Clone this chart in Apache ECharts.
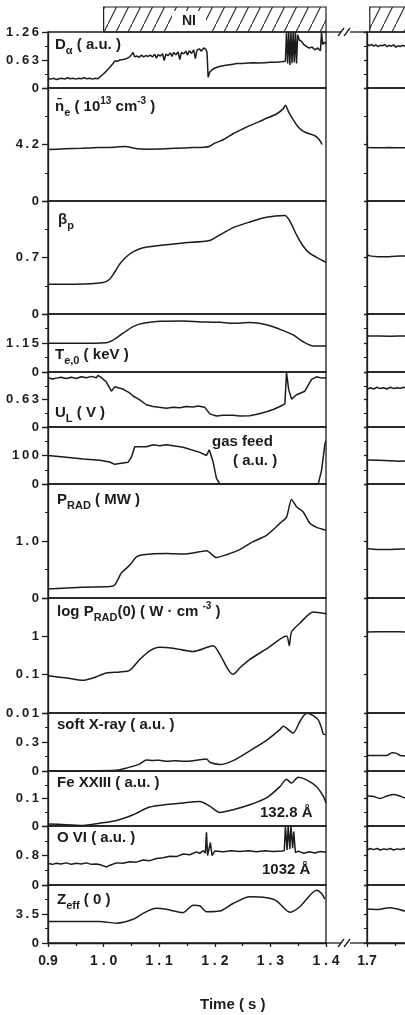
<!DOCTYPE html>
<html><head><meta charset="utf-8">
<script src="https://cdn.jsdelivr.net/npm/echarts@6/dist/echarts.min.js"></script>
<style>html,body{margin:0;padding:0;background:#fff}#c{width:405px;height:1015px}</style>
</head><body><div id="c"></div>
<script>
// ---------------- DATA ----------------
const xTicksMain = [0.9, 1.0, 1.1, 1.2, 1.3, 1.4];
const xTicksRight = [1.7];
const niStart = [1.0, 1.705];
const niEnd = [1.4, 1.81];

const yTickLabels = [
  ['0','0.63','1.26'], ['0','4.2'], ['0','0.7'], ['0','1.15'], ['0','0.63'], ['0','100'],
  ['0','1.0'], ['0.01','0.1','1'], ['0','0.3'], ['0','0.1'], ['0','0.8'], ['0','3.5']
];
const yMax = [1.26, 8.4, 1.4, 2.3, 1.26, 200, 2.0, 10, 0.6, 0.2, 1.6, 7.0];

const dAlpha = [[0.900,0.21],[0.905,0.20],[0.910,0.22],[0.915,0.19],[0.920,0.21],[0.925,0.22],[0.930,0.20],[0.935,0.23],[0.940,0.21],[0.945,0.22],[0.950,0.20],[0.955,0.22],[0.960,0.21],[0.965,0.23],[0.970,0.21],[0.975,0.22],[0.980,0.20],[0.985,0.22],[0.990,0.21],[0.993,0.25],[0.999,0.31],[1.005,0.38],[1.011,0.46],[1.017,0.55],[1.020,0.61],[1.025,0.60],[1.029,0.63],[1.035,0.64],[1.041,0.66],[1.047,0.70],[1.050,0.73],[1.053,0.80],[1.056,0.70],[1.060,0.72],[1.064,0.69],[1.068,0.74],[1.072,0.70],[1.076,0.73],[1.080,0.71],[1.084,0.74],[1.088,0.70],[1.092,0.76],[1.095,0.67],[1.098,0.75],[1.102,0.72],[1.106,0.77],[1.109,0.62],[1.112,0.76],[1.116,0.73],[1.120,0.79],[1.123,0.71],[1.126,0.80],[1.130,0.75],[1.134,0.81],[1.137,0.64],[1.140,0.80],[1.144,0.77],[1.148,0.83],[1.151,0.74],[1.154,0.84],[1.158,0.78],[1.162,0.86],[1.165,0.66],[1.168,0.85],[1.172,0.88],[1.176,0.83],[1.180,0.90],[1.184,0.87],[1.186,0.80],[1.188,0.24],[1.191,0.36],[1.195,0.41],[1.200,0.45],[1.210,0.49],[1.220,0.51],[1.230,0.53],[1.240,0.55],[1.250,0.55],[1.260,0.56],[1.270,0.57],[1.280,0.56],[1.290,0.57],[1.300,0.58],[1.310,0.58],[1.320,0.59],[1.327,0.60],[1.329,1.26],[1.331,0.55],[1.333,1.26],[1.335,0.52],[1.337,1.26],[1.339,0.56],[1.341,1.26],[1.343,0.58],[1.345,1.26],[1.347,0.55],[1.349,1.20],[1.352,1.08],[1.356,1.05],[1.360,0.98],[1.365,0.93],[1.370,0.90],[1.375,0.92],[1.380,0.86],[1.385,0.90],[1.390,0.84],[1.392,1.26],[1.394,0.98],[1.397,1.03],[1.400,0.99]];
const dAlphaR = [[1.700,1.00],[1.704,0.95],[1.708,0.98],[1.712,0.94],[1.716,0.97],[1.720,0.93],[1.724,0.96],[1.728,0.95],[1.732,0.98],[1.736,0.93],[1.740,0.96],[1.744,0.94],[1.748,0.97],[1.752,0.92],[1.756,0.95],[1.760,0.93],[1.764,0.96],[1.768,0.94],[1.772,0.95],[1.776,0.93]];

const neBar = [[0.900,3.82],[0.930,3.88],[0.960,3.92],[0.990,3.97],[1.020,4.00],[1.040,4.06],[1.050,3.98],[1.060,3.88],[1.080,3.85],[1.100,3.86],[1.130,3.92],[1.160,3.97],[1.180,4.00],[1.190,4.05],[1.200,4.30],[1.215,4.55],[1.233,5.00],[1.250,5.35],[1.263,5.60],[1.280,5.90],[1.293,6.15],[1.310,6.45],[1.323,6.85],[1.327,7.12],[1.333,6.60],[1.340,6.10],[1.350,5.50],[1.360,5.15],[1.370,5.00],[1.380,4.85],[1.388,4.55],[1.393,4.20]];
const neBarR = [[1.700,3.97],[1.720,3.96],[1.740,3.97],[1.760,3.96],[1.780,3.96]];

const betaP = [[0.900,0.37],[0.950,0.37],[0.999,0.39],[1.011,0.43],[1.020,0.52],[1.029,0.62],[1.041,0.71],[1.053,0.77],[1.071,0.82],[1.089,0.84],[1.143,0.88],[1.191,0.91],[1.209,0.98],[1.233,1.07],[1.263,1.14],[1.293,1.20],[1.326,1.22],[1.335,1.15],[1.347,0.98],[1.359,0.84],[1.371,0.75],[1.389,0.68],[1.400,0.64]];
const betaPR = [[1.700,0.74],[1.705,0.72],[1.720,0.71],[1.740,0.71],[1.760,0.72],[1.780,0.72]];

const te0 = [[0.900,1.14],[0.950,1.14],[1.005,1.16],[1.020,1.30],[1.035,1.54],[1.053,1.80],[1.071,1.93],[1.101,2.01],[1.143,2.02],[1.185,1.98],[1.210,1.97],[1.233,1.93],[1.263,1.96],[1.293,1.87],[1.323,1.64],[1.341,1.47],[1.359,1.20],[1.377,1.03],[1.400,1.03]];
const te0R = [[1.700,1.43],[1.740,1.42],[1.780,1.43]];

const uL = [[0.900,1.13],[0.908,1.10],[0.915,1.12],[0.923,1.14],[0.933,1.11],[0.942,1.14],[0.951,1.11],[0.960,1.15],[0.969,1.13],[0.978,1.16],[0.987,1.13],[0.990,1.18],[0.996,1.13],[1.005,1.03],[1.014,0.82],[1.020,0.92],[1.029,0.89],[1.035,0.87],[1.041,0.82],[1.047,0.78],[1.053,0.71],[1.065,0.62],[1.077,0.51],[1.089,0.47],[1.100,0.45],[1.113,0.43],[1.125,0.45],[1.137,0.44],[1.149,0.47],[1.161,0.46],[1.170,0.48],[1.182,0.45],[1.191,0.30],[1.203,0.25],[1.215,0.27],[1.233,0.27],[1.245,0.25],[1.263,0.26],[1.278,0.30],[1.293,0.35],[1.305,0.40],[1.317,0.47],[1.326,0.53],[1.329,1.24],[1.333,0.85],[1.338,0.64],[1.347,0.74],[1.362,0.82],[1.374,1.09],[1.383,1.15],[1.392,1.12],[1.400,1.13]];
const uLR = [[1.700,0.86],[1.706,0.90],[1.712,0.87],[1.718,0.91],[1.724,0.88],[1.730,0.90],[1.736,0.87],[1.742,0.91],[1.748,0.88],[1.754,0.90],[1.760,0.89],[1.766,0.91],[1.772,0.88],[1.778,0.90]];

const gasFeed = [[0.900,100],[0.933,94],[0.963,88],[0.993,83],[1.011,77],[1.020,69],[1.044,76],[1.050,94],[1.056,131],[1.077,131],[1.089,138],[1.101,134],[1.113,138],[1.143,129],[1.173,111],[1.185,100],[1.190,120],[1.197,77],[1.203,20],[1.209,0],[1.386,0],[1.392,48],[1.398,140],[1.400,152]];
const gasFeedR = [[1.700,84],[1.720,83],[1.740,82],[1.760,80],[1.780,81]];

const pRad = [[0.900,0.16],[0.963,0.19],[1.011,0.20],[1.020,0.23],[1.032,0.44],[1.041,0.52],[1.050,0.61],[1.059,0.72],[1.071,0.76],[1.113,0.78],[1.143,0.77],[1.173,0.81],[1.185,0.83],[1.203,0.71],[1.221,0.76],[1.245,0.85],[1.269,0.99],[1.293,1.10],[1.317,1.31],[1.329,1.42],[1.338,1.73],[1.347,1.60],[1.359,1.51],[1.371,1.31],[1.383,1.24],[1.400,1.19]];
const pRadR = [[1.700,0.87],[1.720,0.85],[1.740,0.85],[1.760,0.86],[1.780,0.86]];

const logPRad0 = [[0.900,0.094],[0.933,0.082],[0.963,0.071],[0.981,0.082],[1.005,0.111],[1.029,0.118],[1.047,0.13],[1.065,0.25],[1.083,0.42],[1.101,0.52],[1.125,0.49],[1.161,0.40],[1.197,0.57],[1.209,0.34],[1.224,0.136],[1.233,0.102],[1.245,0.15],[1.263,0.25],[1.293,0.47],[1.329,1.02],[1.334,0.57],[1.338,1.3],[1.353,2.2],[1.377,4.3],[1.400,3.9]];
const logPRad0R = [[1.700,1.30],[1.740,1.32],[1.780,1.30]];

const softXray = [[0.900,0],[1.023,0.007],[1.041,0.03],[1.065,0.074],[1.077,0.115],[1.089,0.108],[1.100,0.112],[1.113,0.101],[1.130,0.106],[1.143,0.100],[1.165,0.110],[1.185,0.125],[1.191,0.09],[1.209,0.067],[1.233,0.108],[1.263,0.209],[1.293,0.317],[1.317,0.428],[1.323,0.462],[1.341,0.394],[1.353,0.512],[1.365,0.597],[1.377,0.573],[1.386,0.529],[1.392,0.445],[1.395,0.384],[1.400,0.378]];
const softXrayR = [[1.700,0.16],[1.735,0.16],[1.745,0.19],[1.752,0.185],[1.760,0.16],[1.780,0.155]];

const feXXIII = [[0.900,0.007],[0.933,0.005],[0.963,0.002],[0.993,0.010],[1.023,0.020],[1.053,0.041],[1.083,0.069],[1.113,0.078],[1.143,0.084],[1.173,0.089],[1.191,0.072],[1.209,0.049],[1.233,0.059],[1.263,0.077],[1.293,0.102],[1.317,0.143],[1.329,0.170],[1.338,0.156],[1.350,0.177],[1.365,0.168],[1.383,0.143],[1.395,0.109],[1.400,0.084]];
const feXXIIIR = [[1.700,0.110],[1.712,0.107],[1.723,0.100],[1.735,0.108],[1.748,0.115],[1.760,0.108],[1.772,0.100],[1.780,0.100]];

const oVI = [[0.900,0.58],[0.908,0.56],[0.915,0.59],[0.923,0.57],[0.933,0.60],[0.942,0.56],[0.951,0.59],[0.960,0.57],[0.969,0.60],[0.978,0.56],[0.987,0.57],[0.996,0.54],[1.005,0.49],[1.014,0.55],[1.023,0.60],[1.035,0.59],[1.047,0.63],[1.059,0.62],[1.071,0.68],[1.083,0.66],[1.095,0.72],[1.107,0.74],[1.119,0.78],[1.131,0.77],[1.143,0.84],[1.155,0.82],[1.167,0.90],[1.173,0.86],[1.179,0.93],[1.183,0.87],[1.185,1.43],[1.187,0.80],[1.189,0.78],[1.192,1.15],[1.195,0.80],[1.200,0.92],[1.215,0.90],[1.230,0.93],[1.245,0.91],[1.260,0.93],[1.275,0.90],[1.290,0.93],[1.305,0.91],[1.320,0.92],[1.325,0.93],[1.327,1.60],[1.330,0.95],[1.332,1.60],[1.335,0.98],[1.337,1.60],[1.340,1.00],[1.342,1.45],[1.345,0.88],[1.350,0.92],[1.360,0.86],[1.370,0.90],[1.380,0.87],[1.390,0.91],[1.400,0.89]];
const oVIR = [[1.700,0.95],[1.706,0.99],[1.712,0.96],[1.718,0.99],[1.724,0.95],[1.730,0.98],[1.736,0.96],[1.742,0.99],[1.748,0.95],[1.754,0.98],[1.760,0.96],[1.766,0.99],[1.772,0.96],[1.778,0.97]];

const zEff = [[0.900,2.59],[0.993,2.59],[1.023,2.39],[1.053,2.86],[1.071,3.58],[1.095,4.18],[1.113,4.06],[1.143,3.66],[1.161,4.57],[1.173,4.49],[1.185,3.78],[1.209,3.86],[1.233,4.77],[1.263,5.57],[1.293,5.45],[1.311,5.09],[1.335,3.70],[1.353,4.38],[1.383,6.36],[1.392,5.97],[1.398,5.29]];
const zEffR = [[1.700,4.10],[1.720,4.05],[1.741,4.26],[1.755,4.10],[1.768,3.86],[1.780,3.90]];

const mainSeries = [dAlpha, neBar, betaP, te0, uL, gasFeed, pRad, logPRad0, softXray, feXXIII, oVI, zEff];
const rightSeries = [dAlphaR, neBarR, betaPR, te0R, uLR, gasFeedR, pRadR, logPRad0R, softXrayR, feXXIIIR, oVIR, zEffR];
const smoothFlags = [false, true, true, true, false, false, true, true, true, true, false, true];

// ---------------- LAYOUT / STYLE ----------------
const FONT = '"Liberation Sans", Arial, Helvetica, sans-serif';
const INK = '#1c1c1c';
const edges = [32, 88, 201, 314, 372, 427, 484, 598, 713, 771, 826, 885, 943];
const mainLeft = 48, mainWidth = 278, rightLeft = 367, rightWidth = 60;

const richStyles = {
  b: {fontSize: 15, fontWeight: 'bold', fontFamily: FONT, color: INK, lineHeight: 22},
  s: {fontSize: 11, fontWeight: 'bold', fontFamily: FONT, color: INK, lineHeight: 12, verticalAlign: 'bottom'},
  p: {fontSize: 10, fontWeight: 'bold', fontFamily: FONT, color: INK, lineHeight: 10, verticalAlign: 'top'}
};
const labelDefs = [
  ['{b|D}{s|α}{b| ( a.u. )}', 55, 34],
  ['{b|n\u0304}{s|e}{b| ( 10}{p|13}{b| cm}{p|-3}{b| )}', 55, 96],
  ['{b|β}{s|p}', 58, 209],
  ['{b|T}{s|e,0}{b| ( keV )}', 55, 344],
  ['{b|U}{s|L}{b| ( V )}', 55, 402],
  ['{b|gas feed}', 212, 431],
  ['{b|( a.u. )}', 233, 450],
  ['{b|P}{s|RAD}{b| ( MW )}', 57, 489],
  ['{b|log P}{s|RAD}{b|(0) ( W · cm }{p|-3}{b| )}', 57, 601],
  ['{b|soft X-ray ( a.u. )}', 57, 714],
  ['{b|Fe XXIII ( a.u. )}', 57, 772],
  ['{b|132.8 Å}', 260, 802],
  ['{b|O VI ( a.u. )}', 57, 827],
  ['{b|1032 Å}', 262, 859],
  ['{b|Z}{s|eff}{b| ( 0 )}', 57, 889],
  ['{b|Time ( s )}', 200, 994]
];

function hatchCanvas() {
  const c = document.createElement('canvas');
  c.width = 12; c.height = 24;
  const g = c.getContext('2d');
  g.strokeStyle = '#2a2a2a'; g.lineWidth = 1.1;
  g.beginPath(); g.moveTo(-1, 26); g.lineTo(13, -2); g.stroke();
  return c;
}
const hatch = {image: hatchCanvas(), repeat: 'repeat'};
const spaced = s => s.split('').join('\u2009');

const grid = [], xAxis = [], yAxis = [], series = [];
for (let i = 0; i < 12; i++) {
  const top = edges[i], h = edges[i + 1] - edges[i];
  const isLog = i === 7, isLast = i === 11;
  [[mainLeft, mainWidth, 0.9, 1.4, mainSeries[i], true], [rightLeft, rightWidth, 1.7, 1.808, rightSeries[i], false]].forEach(([left, width, xmin, xmax, data, isMain]) => {
    const gi = grid.length;
    grid.push({left, top, width, height: h, show: true, borderColor: INK, borderWidth: 1.3,
      backgroundColor: 'transparent', containLabel: false, outerBoundsMode: 'none'});
    xAxis.push({
      gridIndex: gi, type: 'value', min: xmin, max: xmax, interval: 0.1,
      axisLine: {show: isLast, lineStyle: {color: INK, width: 1.3}},
      axisTick: {show: isLast, length: 4, lineStyle: {color: INK, width: 1.3}},
      minorTick: {show: isLast, splitNumber: 2, length: 3, lineStyle: {color: INK, width: 1.3}},
      splitLine: {show: false},
      axisLabel: {
        show: isLast, margin: 11, fontSize: 14, fontWeight: 'bold', fontFamily: FONT, color: INK,
        showMaxLabel: isMain,
        formatter: v => {
          const s = v.toFixed(1);
          if (!isMain || Math.abs(v - 0.9) < 1e-6) return s;
          return s.split('').join(' ');
        }
      }
    });
    const labels = yTickLabels[i];
    const ya = {
      gridIndex: gi, type: isLog ? 'log' : 'value', min: isLog ? 0.01 : 0, max: yMax[i],
      axisLine: {show: true, lineStyle: {color: INK, width: 1.3}},
      axisTick: {show: true, length: isMain ? 6 : 3, lineStyle: {color: INK, width: 1.3}},
      minorTick: {show: !isLog, splitNumber: 2, length: 3, lineStyle: {color: INK, width: 1}},
      splitLine: {show: false},
      axisLabel: {
        show: isMain, margin: 9, fontSize: 13, fontWeight: 'bold', fontFamily: FONT, color: INK,
        formatter: (v, idx) => labels[idx] !== undefined ? spaced(labels[idx]) : ''
      }
    };
    if (isLog) ya.logBase = 10; else ya.interval = yMax[i] / 2;
    yAxis.push(ya);
    series.push({
      type: 'line', xAxisIndex: gi, yAxisIndex: gi, data, showSymbol: false, silent: true,
      smooth: smoothFlags[i] ? 0.25 : false, clip: true,
      lineStyle: {color: INK, width: 1.5}
    });
  });
}
// NI bars
[[mainLeft, mainWidth, 0.9, 1.4, 0], [rightLeft, rightWidth, 1.7, 1.808, 1]].forEach(([left, width, xmin, xmax, k]) => {
  const gi = grid.length;
  grid.push({left, top: 7, width, height: 25, show: false, containLabel: false, outerBoundsMode: 'none'});
  xAxis.push({gridIndex: gi, type: 'value', min: xmin, max: xmax, show: false});
  yAxis.push({gridIndex: gi, type: 'value', min: 0, max: 1, show: false});
  series.push({
    type: 'line', xAxisIndex: gi, yAxisIndex: gi, data: [], silent: true,
    markArea: {silent: true, label: {show: false},
      itemStyle: {color: hatch, borderColor: INK, borderWidth: 1.2},
      data: [[{xAxis: niStart[k]}, {xAxis: niEnd[k]}]]}
  });
});

const title = labelDefs.map(([text, left, top]) => ({text, left, top, padding: 0, textStyle: {rich: richStyles}}));
title.push({text: 'NI', left: 172, top: 11, padding: [2, 10], backgroundColor: '#fff',
  textStyle: {fontSize: 14, fontWeight: 'bold', fontFamily: FONT, color: INK, lineHeight: 16}});

const ls = {stroke: INK, lineWidth: 1.3};
const graphic = [];
[edges[0], edges[12]].forEach(y => {
  const x0 = mainLeft + mainWidth;
  graphic.push({type: 'line', shape: {x1: x0, y1: y, x2: 341, y2: y}, style: ls});
  graphic.push({type: 'line', shape: {x1: 350, y1: y, x2: rightLeft, y2: y}, style: ls});
  graphic.push({type: 'line', shape: {x1: 338, y1: y + 4, x2: 344, y2: y - 4}, style: ls});
  graphic.push({type: 'line', shape: {x1: 344, y1: y + 4, x2: 350, y2: y - 4}, style: ls});
});

const chart = echarts.init(document.getElementById('c'), null, {renderer: 'canvas'});
chart.setOption({backgroundColor: '#fff', animation: false, grid, xAxis, yAxis, series, title, graphic});
</script>
</body></html>
